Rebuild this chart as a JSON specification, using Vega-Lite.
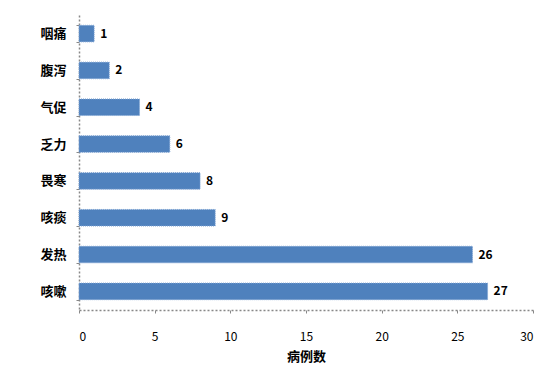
{
  "$schema": "https://vega.github.io/schema/vega-lite/v6.json",
  "width": 454,
  "height": 295,
  "autosize": {"type": "none"},
  "padding": {"left": 79, "top": 15, "right": 20, "bottom": 59},
  "background": "white",
  "config": {"view": {"stroke": null}, "font": "Noto Sans CJK SC"},
  "data": {"values": [
    {"symptom": "咽痛", "count": 1},
    {"symptom": "腹泻", "count": 2},
    {"symptom": "气促", "count": 4},
    {"symptom": "乏力", "count": 6},
    {"symptom": "畏寒", "count": 8},
    {"symptom": "咳痰", "count": 9},
    {"symptom": "发热", "count": 26},
    {"symptom": "咳嗽", "count": 27}
  ]},
  "encoding": {
    "y": {
      "field": "symptom", "type": "nominal", "sort": null,
      "scale": {"paddingInner": 0.55, "paddingOuter": 0.28},
      "axis": {
        "title": null, "domainColor": "#888", "domainDash": [2, 2], "domainWidth": 1.5,
        "tickColor": "#888", "tickSize": 3, "tickBand": "extent",
        "labelFontSize": 13, "labelFontWeight": "bold", "labelColor": "#000", "labelPadding": 10
      }
    },
    "x": {
      "field": "count", "type": "quantitative",
      "scale": {"domain": [0, 30], "nice": false},
      "axis": {
        "title": "病例数", "titleFontSize": 13, "titleFontWeight": "bold", "titlePadding": 8,
        "values": [0, 5, 10, 15, 20, 25, 30], "grid": false,
        "domainColor": "#888", "domainDash": [2, 2], "domainWidth": 1.5,
        "tickColor": "#888", "tickSize": 3, "labelPadding": 18,
        "labelFontSize": 12, "labelColor": "#000"
      }
    }
  },
  "layer": [
    {"mark": {"type": "bar", "color": "#4f81bd", "stroke": "#7ea3d3", "strokeDash": [1, 1], "strokeWidth": 1}},
    {"mark": {"type": "text", "align": "left", "dx": 6, "fontSize": 12, "fontWeight": "bold", "color": "#000"},
     "encoding": {"text": {"field": "count", "type": "quantitative"}}}
  ]
}
